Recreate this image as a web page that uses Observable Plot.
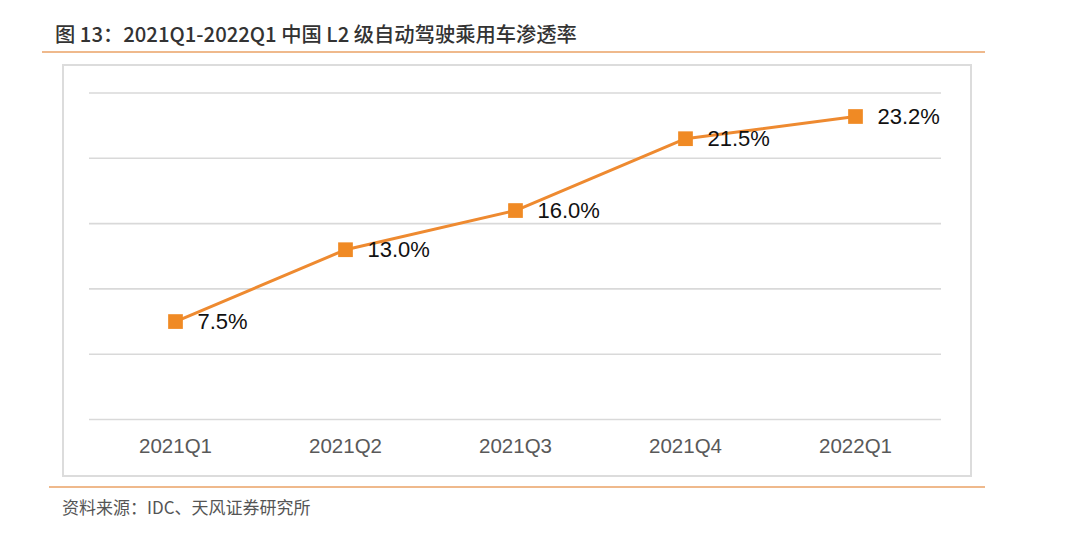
<!DOCTYPE html>
<html>
<head>
<meta charset="utf-8">
<script src="https://cdn.jsdelivr.net/npm/d3@7"></script>
<script src="https://cdn.jsdelivr.net/npm/@observablehq/plot@0.6"></script>
<style>
  html, body { margin: 0; padding: 0; background: #fff; width: 1080px; height: 538px; overflow: hidden; }
  #title { position: absolute; left: 55px; top: 19px; font-family: "Noto Sans CJK SC", "Liberation Sans", sans-serif; font-weight: 500; font-size: 20.3px; color: #333; white-space: nowrap; line-height: 28px; }
  .rule { position: absolute; height: 2px; background: #EFB98C; }
  #box { position: absolute; left: 62px; top: 64px; width: 906px; height: 409px; border: 2px solid #dcdcdc; }
  #chart { position: absolute; left: 0; top: 64px; }
  #caption { position: absolute; left: 62px; top: 496px; font-family: "Noto Sans CJK SC", "Liberation Sans", sans-serif; font-size: 17px; color: #555; white-space: nowrap; line-height: 22px; }
</style>
</head>
<body>
<div id="title">图 13：2021Q1-2022Q1 中国 L2 级自动驾驶乘用车渗透率</div>
<div class="rule" style="left:42px; top:51px; width:943px;"></div>
<div id="box"></div>
<div id="chart"></div>
<div class="rule" style="left:49px; top:486px; width:936px;"></div>
<div id="caption">资料来源：IDC、天风证券研究所</div>
<script>
const quarters = ["2021Q1", "2021Q2", "2021Q3", "2021Q4", "2022Q1"];
const penetration = [7.5, 13.0, 16.0, 21.5, 23.2];
const yTicks = [0, 5, 10, 15, 20, 25];

const data = quarters.map((q, i) => ({ q, v: penetration[i] }));

const chart = Plot.plot({
  width: 1080,
  height: 411,
  marginLeft: 89,
  marginRight: 139,
  marginTop: 28.5,
  marginBottom: 56,
  style: { fontFamily: "'Liberation Sans', Arial, sans-serif", background: "transparent" },
  x: { type: "point", domain: quarters, padding: 0.5, label: null, axis: null },
  y: { domain: [0, 25], label: null, axis: null },
  marks: [
    Plot.ruleY(yTicks, { stroke: "#d9d9d9", strokeWidth: 1.6 }),
    Plot.text(quarters, { x: d => d, frameAnchor: "bottom", dy: 27, text: d => d, fontSize: 20.5, fill: "#595959", textAnchor: "middle", lineAnchor: "middle" }),
    Plot.line(data, { x: "q", y: "v", stroke: "#EE8A30", strokeWidth: 3 }),
    Plot.dot(data, { x: "q", y: "v", symbol: "square", r: 8.3, fill: "#F08A24", stroke: null }),
    Plot.text(data, { x: "q", y: "v", text: d => d.v.toFixed(1) + "%", dx: 22, textAnchor: "start", fontSize: 22, fill: "#111" })
  ]
});
document.getElementById("chart").appendChild(chart);
</script>
</body>
</html>
